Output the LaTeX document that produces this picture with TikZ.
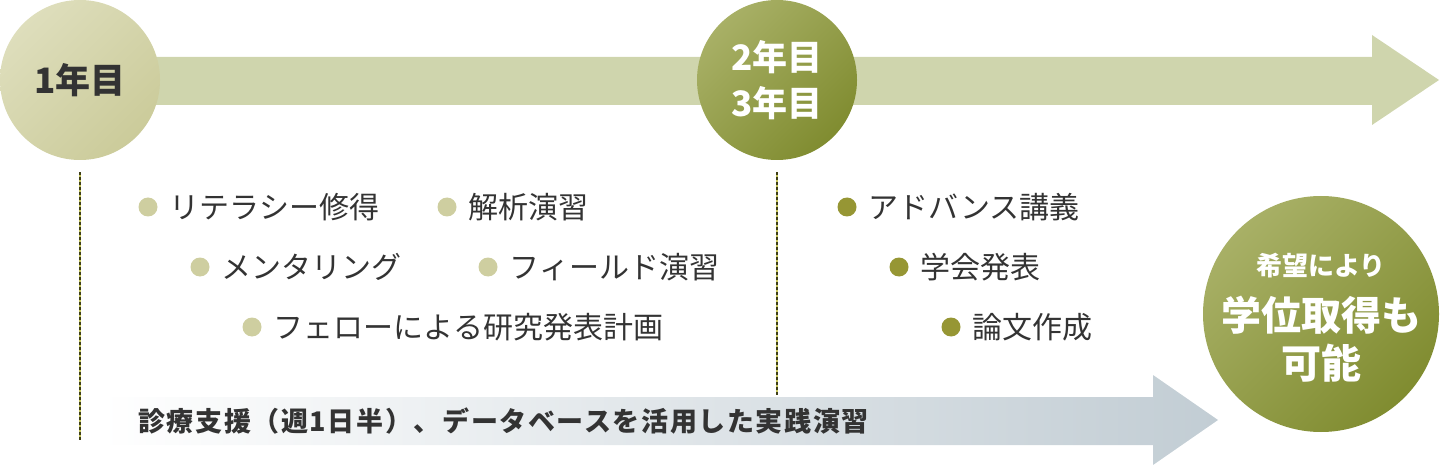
\documentclass[tikz,border=0pt]{standalone}
\usepackage{fontspec}
\setmainfont{Noto Sans CJK JP}
\usetikzlibrary{positioning}

\definecolor{bandgreen}{RGB}{207,213,173}
\definecolor{paleolive}{RGB}{206,206,160}
\definecolor{deepolive}{RGB}{150,150,52}
\definecolor{olivelight}{RGB}{168,176,102}
\definecolor{olivedark}{RGB}{128,140,48}
\definecolor{yearonelight}{RGB}{222,222,188}
\definecolor{yearonedark}{RGB}{203,203,154}
\definecolor{textgray}{RGB}{51,51,51}
\definecolor{slate}{RGB}{194,205,212}
\definecolor{dashdark}{RGB}{62,62,22}
\definecolor{dashlight}{RGB}{196,196,92}

\tikzstyle{yearone} = [circle,minimum size=160pt,inner sep=0pt,top color=yearonelight,bottom color=yearonedark,shading angle=45,text=textgray,font=\fontsize{35}{44}\selectfont\bfseries]
\tikzstyle{yeartwo} = [circle,minimum size=160pt,inner sep=0pt,top color=olivelight,bottom color=olivedark,shading angle=45,text=white,align=center,font=\fontsize{35}{46}\selectfont\bfseries]
\tikzstyle{goal} = [circle,minimum size=236pt,inner sep=0pt,top color=olivelight,bottom color=olivedark,shading angle=45]
\tikzstyle{goaltext} = [text=white,inner sep=0pt,font=\fontsize{40}{44}\selectfont\bfseries]
\tikzstyle{dotA} = [circle,fill=paleolive,minimum size=19pt,inner sep=0pt]
\tikzstyle{dotB} = [circle,fill=deepolive,minimum size=19pt,inner sep=0pt]
\tikzstyle{item} = [text=textgray,inner sep=0pt,font=\fontsize{30}{36}\selectfont]
\tikzstyle{practice} = [text=textgray,inner sep=0pt,font=\fontsize{27}{32}\selectfont\bfseries\addfontfeature{LetterSpace=6}]
\tikzstyle{stem} = [dashlight,line width=1.6pt,postaction={draw=dashdark,line width=1.6pt,dash pattern=on 2.5pt off 2.5pt}]

\begin{document}
\begin{tikzpicture}[x=1pt,y=-1pt]
		\useasboundingbox (0,0) rectangle (1440,465);
		% the two arrows
		\fill[bandgreen] (80,57) -- (1372,57) -- (1372,35) -- (1439,80) -- (1372,125) -- (1372,105) -- (80,105) -- cycle;
		\shade[left color=white,middle color=slate!75,right color=slate] (100,397) -- (1153,397) -- (1153,375) -- (1218,420) -- (1153,465) -- (1153,445) -- (100,445) -- cycle;
		
		\node[yearone] (y1) at (80,80) {1年目};
		\node[yeartwo] (y23) at (777,80) {2年目\\3年目};
		\node[goal] (goal) at (1321,314) {};
		
		\coordinate (y1end) at (80,440);
		\coordinate (y23end) at (777,395);
		\draw[stem] ([yshift=-12pt]y1.south) -- (y1end);
		\draw[stem] ([yshift=-12pt]y23.south) -- (y23end);
		
		\node[dotA] (a1) at (148,207) {};
		\node[item,right=12pt of a1] (lit) {リテラシー修得};
		\node[dotA] (a2) at (447,207) {};
		\node[item,right=12pt of a2] (ana) {解析演習};
		\node[dotA] (a3) at (200,267) {};
		\node[item,right=12pt of a3] (men) {メンタリング};
		\node[dotA] (a4) at (488,267) {};
		\node[item,right=12pt of a4] (fld) {フィールド演習};
		\node[dotA] (a5) at (252,327) {};
		\node[item,right=12pt of a5] (fel) {フェローによる研究発表計画};
		
		\node[dotB] (b1) at (847,207) {};
		\node[item,right=12pt of b1] (adv) {アドバンス講義};
		\node[dotB] (b2) at (899,267) {};
		\node[item,right=12pt of b2] (con) {学会発表};
		\node[dotB] (b3) at (951,327) {};
		\node[item,right=12pt of b3] (the) {論文作成};
		
		\node[practice,anchor=west] (prac) at (138,421) {診療支援（週1日半）、データベースを活用した実践演習};
		
		\node[goaltext,font=\fontsize{26}{30}\selectfont\bfseries] (g1) at (1321,266) {希望により};
		\node[goaltext] (g2) at (1321,315) {学位取得も};
		\node[goaltext] (g3) at (1321,363) {可能};
		\end{tikzpicture}
\end{document}
